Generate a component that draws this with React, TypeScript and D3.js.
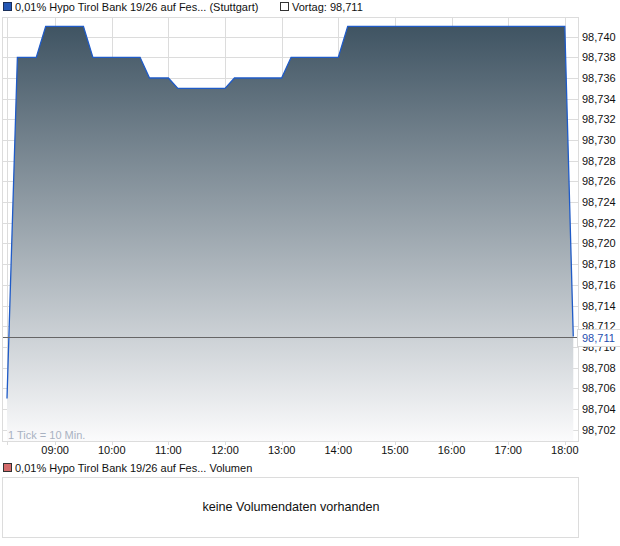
import React from 'react';
import * as d3 from 'd3';

// intraday quotes, 10-minute ticks
const times: string[] = [
  '08:09', '08:20', '08:40', '08:50', '09:30', '09:40', '10:30', '10:40', '11:00',
  '11:10', '12:00', '12:10', '13:00', '13:10', '14:00', '14:10', '18:00', '18:09',
];
const prices: number[] = [
  98.705, 98.738, 98.738, 98.741, 98.741, 98.738, 98.738, 98.736, 98.736,
  98.735, 98.735, 98.736, 98.736, 98.738, 98.738, 98.741, 98.741, 98.711,
];
const hourTicks: string[] = ['09:00', '10:00', '11:00', '12:00', '13:00', '14:00', '15:00', '16:00', '17:00', '18:00'];
const priceTicks: number[] = [
  98.702, 98.704, 98.706, 98.708, 98.71, 98.712, 98.714, 98.716, 98.718, 98.72,
  98.722, 98.724, 98.726, 98.728, 98.73, 98.732, 98.734, 98.736, 98.738, 98.74,
];
const previousClose = 98.711;
const title = '0,01% Hypo Tirol Bank 19/26 auf Fes...';

const W = 620;
const H = 546;
const font = '"Liberation Sans", Arial, sans-serif';

const parse = d3.timeParse('%H:%M');
const fmt = (v: number) => v.toFixed(3).replace('.', ',');

const App: React.FC = () => {
  const frameLeft = 3;
  const plotTop = 17;
  const plotBottom = 441;
  const plotRight = 578;

  const x = d3
    .scaleTime()
    .domain([parse('08:09') as Date, parse('18:14') as Date])
    .range([7, plotRight]);

  const y = d3.scaleLinear().domain([98.7009, 98.7419]).range([plotBottom, plotTop]);

  const data = times.map((t, i) => ({ t: parse(t) as Date, v: prices[i] }));

  const area = d3
    .area<{ t: Date; v: number }>()
    .x((d) => x(d.t))
    .y0(plotBottom)
    .y1((d) => y(d.v));

  const line = d3
    .line<{ t: Date; v: number }>()
    .x((d) => x(d.t))
    .y((d) => y(d.v));

  const grid = '#dcdcdc';
  const prevY = Math.round(y(previousClose)) + 0.5;

  return (
    <svg width={W} height={H} style={{ position: 'absolute', left: 0, top: 0 }} fontFamily={font}>
      <defs>
        <linearGradient id="fillGrad" gradientUnits="userSpaceOnUse" x1={0} y1={plotTop} x2={0} y2={plotBottom}>
          <stop offset="0%" stopColor="#3b505f" />
          <stop offset="100%" stopColor="#fbfbfc" />
        </linearGradient>
      </defs>

      {/* legend */}
      <rect x={3.5} y={2.5} width={8} height={8} fill="#2356b4" stroke="#1a2f5a" />
      <text x={15} y={11} fontSize={11} fill="#111">{title} (Stuttgart)</text>
      <rect x={280.5} y={2.5} width={8} height={8} fill="#fff" stroke="#333" />
      <text x={292} y={11} fontSize={11} fill="#111">Vortag: {fmt(previousClose)}</text>

      {/* grid */}
      {priceTicks.map((p) => (
        <line key={p} x1={frameLeft} x2={plotRight} y1={Math.round(y(p)) + 0.5} y2={Math.round(y(p)) + 0.5} stroke={grid} />
      ))}
      {hourTicks.map((h) => {
        const px = Math.round(x(parse(h) as Date)) + 0.5;
        return <line key={h} x1={px} x2={px} y1={plotTop} y2={plotBottom + 4} stroke={grid} />;
      })}
      <line x1={7.5} x2={7.5} y1={plotTop} y2={plotBottom + 4} stroke={grid} />
      <rect x={frameLeft - 0.5} y={plotTop + 0.5} width={plotRight - frameLeft + 1} height={plotBottom - plotTop} fill="none" stroke={grid} />

      {/* price area */}
      <path d={area(data) ?? ''} fill="url(#fillGrad)" />
      <path d={line(data) ?? ''} fill="none" stroke="#1f5bc8" strokeWidth={1.3} />

      {/* previous close */}
      <line x1={frameLeft} x2={plotRight} y1={prevY} y2={prevY} stroke="#666" />

      <text x={8} y={439} fontSize={11} fill="#a9b2c2">1 Tick = 10 Min.</text>

      {/* y axis */}
      {priceTicks.map((p) => (
        <text key={p} x={582} y={y(p) + 4} fontSize={11} fill="#111">{fmt(p)}</text>
      ))}
      <rect x={577.5} y={prevY - 8} width={44} height={17} fill="#fff" stroke="#d8d8d8" />
      <text x={582} y={prevY + 4} fontSize={11} fill="#1f4fb0">{fmt(previousClose)}</text>

      {/* x axis */}
      {hourTicks.map((h) => (
        <text key={h} x={x(parse(h) as Date)} y={454} fontSize={11} fill="#111" textAnchor="middle">{h}</text>
      ))}

      {/* volume panel */}
      <rect x={3.5} y={463.5} width={8} height={8} fill="#d46a6a" stroke="#333" />
      <text x={15} y={472} fontSize={11} fill="#111">{title} Volumen</text>
      <rect x={frameLeft - 0.5} y={477.5} width={plotRight - frameLeft + 1} height={60} fill="#fff" stroke={grid} />
      <text x={291} y={511} fontSize={12.6} fill="#111" textAnchor="middle">keine Volumendaten vorhanden</text>
    </svg>
  );
};

export default App;
